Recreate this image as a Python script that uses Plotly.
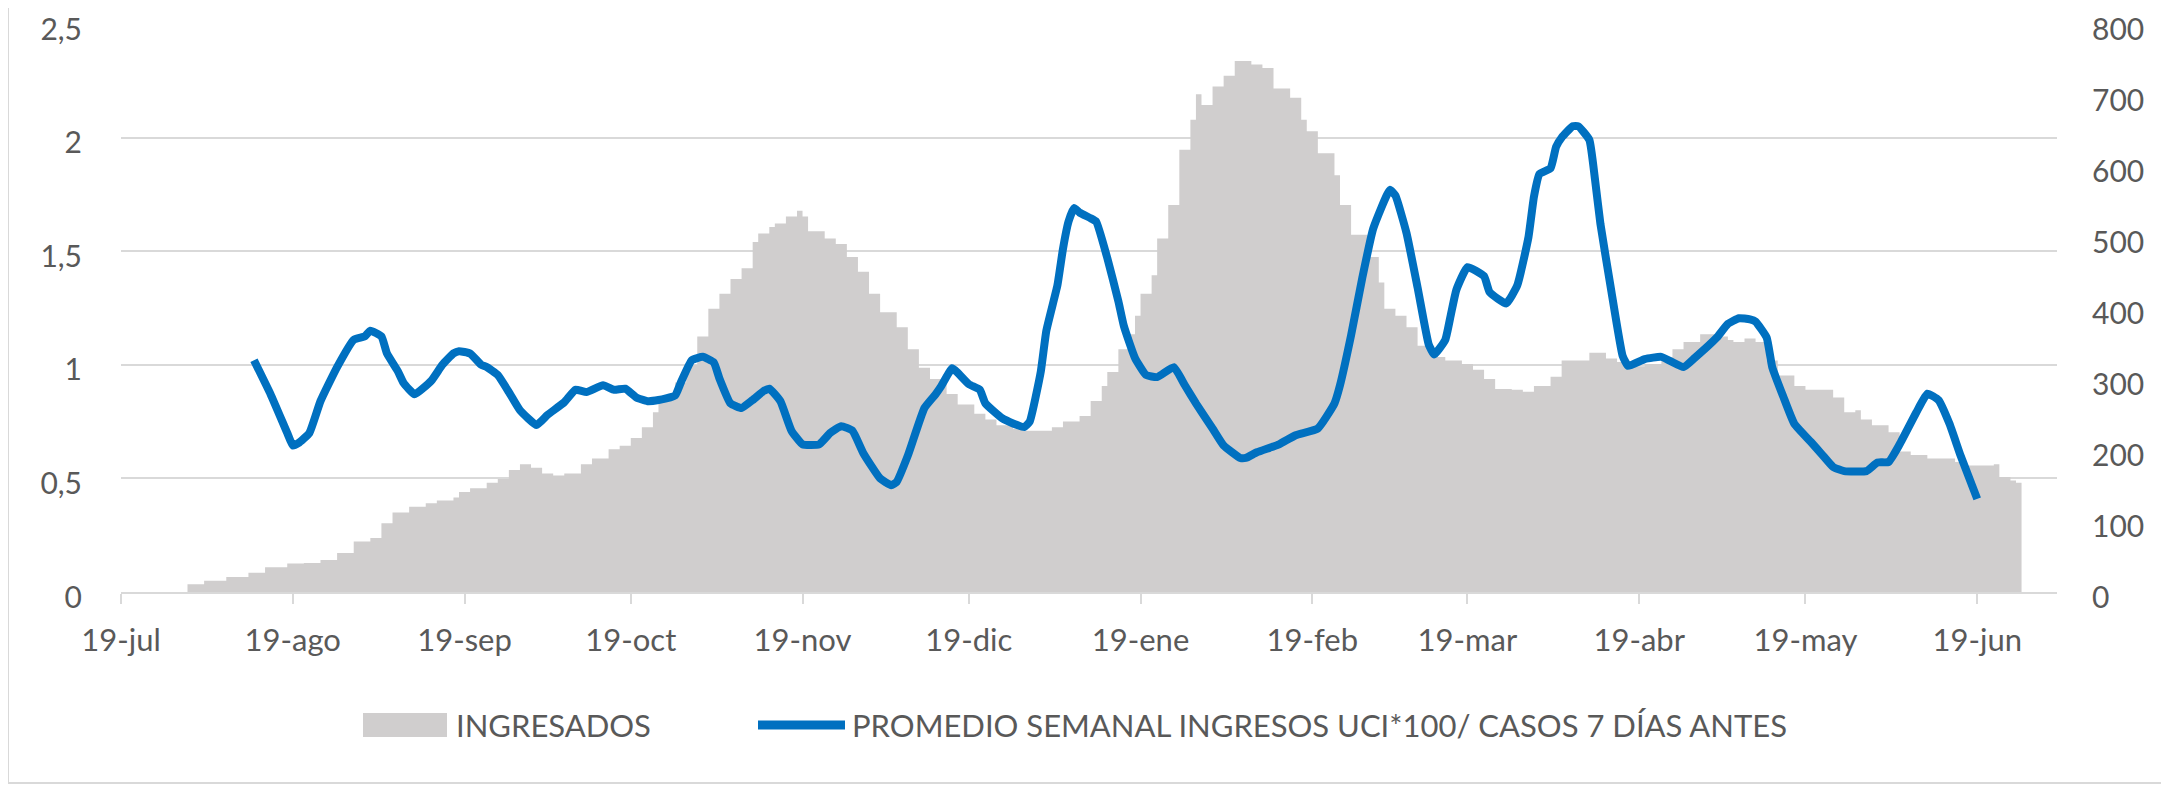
"""
Ingresados vs. promedio semanal de ingresos UCI - gráfico de doble eje
"""

import plotly.graph_objects as go
import pandas as pd

# Colores (estilo Excel)
COLORES = {
    'barras': '#D0CECE',
    'linea': '#0070C0',
    'rejilla': '#D9D9D9',
    'texto': '#595959',
    'borde': '#D9D9D9',
}

FUENTE = 'Lato, Open Sans, sans-serif'

# ---------------------------------------------------------------
# Datos (días desde el 19-jul-2020)
# ---------------------------------------------------------------
FECHA_INICIO = pd.Timestamp('2020-07-19')

DIAS_INGRESADOS = [
    12, 15, 19, 23, 26, 30, 33, 36, 39, 42, 45, 47, 49, 52, 55, 57,
    60, 61, 63, 66, 68, 70, 72, 74, 76, 78, 80, 83, 85, 88, 90, 92,
    94, 96, 97, 100, 102, 104, 106, 108, 110, 112, 114, 115, 117, 118,
    120, 122, 123, 124, 127, 129, 131, 133, 135, 137, 140, 142, 144, 146,
    149, 151, 154, 156, 158, 161, 163, 166, 168, 170, 173, 175, 177, 178,
    180, 182, 183, 184, 186, 187, 189, 191, 193, 194, 195, 197, 199, 201,
    204, 206, 208, 211, 213, 214, 216, 219, 220, 222, 225, 227, 228, 230,
    232, 234, 237, 239, 242, 244, 246, 248, 251, 253, 255, 258, 260, 263,
    265, 268, 270, 273, 275, 278, 280, 282, 285, 288, 290, 291, 293, 295,
    297, 299, 302, 304, 307, 309, 311, 313, 314, 316, 319, 321, 323, 326,
    328, 331, 333, 335, 338, 339, 341, 342, 343,
]
INGRESADOS = [
    11, 16, 21, 27, 35, 40, 41, 45, 55, 71, 76, 97, 112, 120, 125, 129,
    133, 141, 146, 154, 159, 172, 180, 175, 167, 164, 167, 180, 188, 201, 206, 217,
    232, 253, 274, 295, 320, 360, 399, 420, 441, 456, 493, 505, 514, 519,
    529, 537, 529, 508, 498, 490, 472, 451, 420, 394, 373, 342, 316, 300,
    279, 264, 251, 243, 235, 230, 227, 227, 232, 240, 248, 269, 290, 310,
    342, 363, 389, 420, 446, 498, 545, 623, 665, 701, 686, 712, 727, 748,
    743, 738, 709, 696, 665, 649, 618, 587, 545, 503, 472, 436, 399, 389,
    373, 347, 331, 326, 321, 313, 300, 286, 285, 282, 290, 303, 326, 326,
    337, 329, 324, 318, 321, 331, 342, 352, 363, 360, 355, 352, 357, 352,
    326, 305, 290, 285, 285, 274, 253, 256, 243, 235, 225, 198, 193, 188,
    188, 183, 178, 178, 180, 162, 157, 154, 154,
]

DIAS_PROMEDIO = [
    24, 27, 30, 31, 32, 34, 36, 39, 42, 44, 45, 47, 48, 50, 51, 53,
    56, 58, 60, 61, 63, 65, 66, 68, 70, 72, 75, 77, 80, 82, 84, 87,
    89, 91, 93, 95, 97, 100, 101, 103, 105, 107, 108, 110, 112, 114, 116, 117,
    119, 121, 123, 126, 128, 130, 132, 134, 137, 139, 140, 142, 145, 147, 148, 150,
    151, 153, 155, 156, 159, 161, 163, 164, 166, 167, 169, 170, 171, 172, 173, 175,
    176, 178, 180, 181, 183, 185, 187, 190, 192, 194, 197, 199, 202, 203, 205, 209,
    212, 216, 219, 220, 222, 224, 226, 229, 230, 232, 234, 236, 237, 239, 240, 241,
    243, 246, 247, 250, 252, 254, 255, 256, 258, 259, 260, 262, 263, 265, 266, 267,
    269, 271, 272, 275, 278, 282, 284, 288, 290, 292, 294, 295, 297, 298, 300, 302,
    305, 307, 309, 311, 315, 317, 319, 321, 324, 326, 328, 330, 332, 335,
]
PROMEDIO_UCI = [
    1.02, 0.87, 0.70, 0.645, 0.655, 0.70, 0.84, 0.99, 1.11, 1.125, 1.15, 1.125, 1.05, 0.97, 0.92, 0.87,
    0.93, 1.00, 1.05, 1.06, 1.05, 1.00, 0.99, 0.955, 0.88, 0.80, 0.735, 0.78, 0.835, 0.89, 0.88, 0.91,
    0.89, 0.895, 0.856, 0.84, 0.845, 0.865, 0.92, 1.02, 1.035, 1.01, 0.94, 0.83, 0.81, 0.845, 0.885, 0.895,
    0.84, 0.71, 0.65, 0.65, 0.70, 0.73, 0.71, 0.61, 0.50, 0.47, 0.485, 0.60, 0.81, 0.87, 0.905, 0.985,
    0.965, 0.915, 0.89, 0.83, 0.765, 0.742, 0.726, 0.75, 0.97, 1.15, 1.35, 1.51, 1.63, 1.69, 1.67, 1.645,
    1.63, 1.47, 1.28, 1.17, 1.03, 0.955, 0.946, 0.99, 0.91, 0.83, 0.72, 0.645, 0.59, 0.59, 0.615, 0.65,
    0.69, 0.72, 0.83, 0.91, 1.13, 1.38, 1.60, 1.77, 1.745, 1.58, 1.34, 1.09, 1.045, 1.11, 1.22, 1.33,
    1.43, 1.39, 1.32, 1.27, 1.35, 1.56, 1.74, 1.84, 1.865, 1.96, 2.00, 2.05, 2.05, 1.99, 1.82, 1.62,
    1.32, 1.04, 0.995, 1.025, 1.035, 0.99, 1.03, 1.12, 1.18, 1.205, 1.20, 1.19, 1.12, 0.99, 0.86, 0.74,
    0.66, 0.605, 0.55, 0.532, 0.532, 0.57, 0.572, 0.65, 0.79, 0.873, 0.845, 0.74, 0.60, 0.41,
]

TICK_FECHAS = [
    '2020-07-19', '2020-08-19', '2020-09-19', '2020-10-19', '2020-11-19', '2020-12-19',
    '2021-01-19', '2021-02-19', '2021-03-19', '2021-04-19', '2021-05-19', '2021-06-19',
]
TICK_TEXTOS = [
    '19-jul', '19-ago', '19-sep', '19-oct', '19-nov', '19-dic',
    '19-ene', '19-feb', '19-mar', '19-abr', '19-may', '19-jun',
]
TICKS_IZQ = [0, 0.5, 1, 1.5, 2, 2.5]
TEXTOS_IZQ = ['0', '0,5', '1', '1,5', '2', '2,5']
TICKS_DER = [0, 100, 200, 300, 400, 500, 600, 700, 800]

NOMBRE_BARRAS = 'INGRESADOS'
NOMBRE_LINEA = 'PROMEDIO SEMANAL INGRESOS UCI*100/ CASOS 7 DÍAS ANTES'

# Geometría (píxeles de página; el body de la página añade 8 px de margen)
ANCHO, ALTO = 2169, 785
DESFASE = 8
X_IZQ, X_DER, Y_SUP, Y_INF = 121, 2057, 24, 592
M_IZQ = X_IZQ - DESFASE
M_SUP = Y_SUP - DESFASE
M_DER = ANCHO + DESFASE - X_DER
M_INF = ALTO + DESFASE - Y_INF
PLOT_W = X_DER - X_IZQ
PLOT_H = Y_INF - Y_SUP


def px_x(x):
    """Píxel horizontal de página -> coordenada paper"""
    return (x - X_IZQ) / PLOT_W


def px_y(y):
    """Píxel vertical de página -> coordenada paper"""
    return (Y_INF - y) / PLOT_H


def a_fecha(dias):
    return FECHA_INICIO + pd.to_timedelta(dias, unit='D')


fig = go.Figure()

# Barras diarias de ingresados (eje derecho)
fig.add_trace(go.Scatter(
    x=a_fecha(DIAS_INGRESADOS),
    y=INGRESADOS,
    mode='lines',
    line=dict(width=0, shape='hv', color=COLORES['barras']),
    fill='tozeroy',
    fillcolor=COLORES['barras'],
    name=NOMBRE_BARRAS,
    yaxis='y',
    hoverinfo='skip',
))

# Promedio semanal UCI (eje izquierdo)
fig.add_trace(go.Scatter(
    x=a_fecha(DIAS_PROMEDIO),
    y=PROMEDIO_UCI,
    mode='lines',
    line=dict(color=COLORES['linea'], width=8, shape='spline', smoothing=0.4),
    name=NOMBRE_LINEA,
    yaxis='y2',
))

fig.update_layout(
    width=ANCHO,
    height=ALTO,
    plot_bgcolor='white',
    paper_bgcolor='white',
    showlegend=False,
    font=dict(family=FUENTE, size=31, color=COLORES['texto']),
    margin=dict(l=M_IZQ, r=M_DER, t=M_SUP, b=M_INF, autoexpand=False),
    xaxis=dict(
        type='date',
        range=[FECHA_INICIO, a_fecha(349.4)],
        tickvals=TICK_FECHAS,
        ticktext=TICK_TEXTOS,
        showgrid=False,
        showline=True,
        linecolor=COLORES['rejilla'],
        linewidth=2,
        ticks='outside',
        ticklen=10,
        tickwidth=2,
        tickcolor=COLORES['rejilla'],
        ticklabelstandoff=10,
        ticklabeloverflow='allow',
        zeroline=False,
        automargin=False,
    ),
    yaxis=dict(
        side='right',
        range=[0, 800],
        tickvals=TICKS_DER,
        tickfont=dict(size=30),
        showgrid=False,
        zeroline=False,
        showline=False,
        ticklabelstandoff=34,
        ticklabelshift=5,
        ticklabeloverflow='allow',
        automargin=False,
    ),
    yaxis2=dict(
        side='left',
        overlaying='y',
        range=[0, 2.5],
        tickvals=TICKS_IZQ,
        ticktext=TEXTOS_IZQ,
        tickfont=dict(size=30),
        showgrid=True,
        gridcolor=COLORES['rejilla'],
        gridwidth=2,
        zeroline=False,
        showline=False,
        ticklabelstandoff=38,
        ticklabelshift=5,
        ticklabeloverflow='allow',
        automargin=False,
    ),
)

# Leyenda manual (estilo Excel)
y_ley = 725
fig.add_shape(type='rect', xref='paper', yref='paper',
              x0=px_x(363), x1=px_x(447), y0=px_y(737), y1=px_y(713),
              fillcolor=COLORES['barras'], line=dict(width=0))
fig.add_shape(type='line', xref='paper', yref='paper',
              x0=px_x(758), x1=px_x(845), y0=px_y(y_ley), y1=px_y(y_ley),
              line=dict(color=COLORES['linea'], width=9))
fig.add_annotation(text=NOMBRE_BARRAS, xref='paper', yref='paper',
                   x=px_x(454), y=px_y(y_ley), xanchor='left', yanchor='middle',
                   showarrow=False, font=dict(size=31, color=COLORES['texto']))
fig.add_annotation(text=NOMBRE_LINEA, xref='paper', yref='paper',
                   x=px_x(850), y=px_y(y_ley), xanchor='left', yanchor='middle',
                   showarrow=False, font=dict(size=31, color=COLORES['texto']))

# Borde del área del gráfico (izquierda y abajo)
fig.add_shape(type='line', xref='paper', yref='paper',
              x0=px_x(8), x1=px_x(8), y0=px_y(783), y1=px_y(0),
              line=dict(color=COLORES['borde'], width=2))
fig.add_shape(type='line', xref='paper', yref='paper',
              x0=px_x(8), x1=px_x(ANCHO), y0=px_y(783), y1=px_y(783),
              line=dict(color=COLORES['borde'], width=2))

fig.write_html('out.html')
